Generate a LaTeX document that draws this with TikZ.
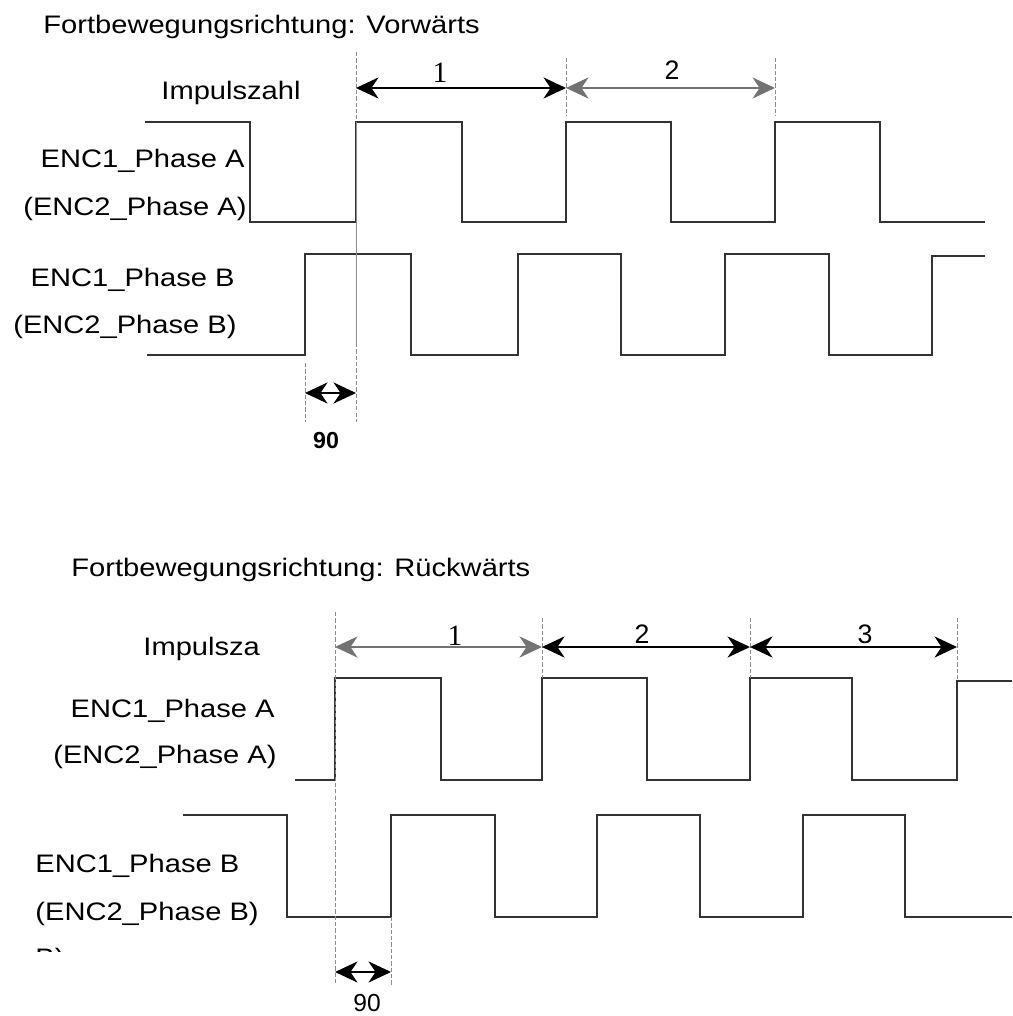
\documentclass[tikz,border=0pt]{standalone}
\usepackage{fontspec}
\setmainfont{Liberation Sans}
\newfontfamily\widefont[FakeStretch=1.15]{Liberation Sans}
\newfontfamily\numserif{Liberation Serif}
\usetikzlibrary{arrows.meta}

\begin{document}
\begin{tikzpicture}[
            x = 0.025cm, y = -0.025cm, % one unit per pixel, y going down
            > = {Stealth[length=16pt, width=15pt, inset=5pt]}, % arrow head style
            semithick % line style
        ]

        \tikzstyle{signal}=[draw = black!80, line width = 1.2pt]
        \tikzstyle{guide}=[draw = black!45, line width = 0.5pt, dash pattern = on 3pt off 1.5pt]
        \tikzstyle{thinline}=[draw = black!45, line width = 0.5pt]
        \tikzstyle{dimline}=[<->, draw = black, line width = 1.2pt]
        \tikzstyle{dimgray}=[<->, draw = black!55, line width = 1.2pt]
        \tikzstyle{sigtext}=[inner sep = 0pt, font = \widefont\fontsize{18}{20}\selectfont]
        \tikzstyle{numtext}=[inner sep = 0pt, font = \fontsize{19}{21}\selectfont]
        \tikzstyle{romtext}=[inner sep = 0pt, font = \numserif\fontsize{21}{23}\selectfont]

        \useasboundingbox (0,0) rectangle (1012,1016);

        % forward
        \node[sigtext, anchor = base west] (titlefwd) at (43,34) {Fortbewegungsrichtung: Vorwärts};
        \node[sigtext, anchor = base west] (countfwd) at (161,100) {Impulszahl};
        \node[sigtext, anchor = base east] (afwd) at (245,168) {ENC1\_Phase A};
        \node[sigtext, anchor = base east] (afwdb) at (247,216) {(ENC2\_Phase A)};
        \node[sigtext, anchor = base east] (bfwd) at (235,287) {ENC1\_Phase B};
        \node[sigtext, anchor = base east] (bfwdb) at (237,333) {(ENC2\_Phase B)};

        \draw[signal] (145,122) -- (250,122) -- (250,222) -- (356,222) -- (356,122) -- (462,122)
            -- (462,222) -- (566,222) -- (566,122) -- (671,122) -- (671,222) -- (775,222)
            -- (775,122) -- (880,122) -- (880,222) -- (985,222);
        \draw[signal] (147,355) -- (305,355) -- (305,254) -- (411,254) -- (411,355) -- (518,355)
            -- (518,254) -- (621,254) -- (621,355) -- (725,355) -- (725,254) -- (829,254)
            -- (829,355) -- (932,355) -- (932,256) -- (985,256);

        \coordinate (f0top) at (356,52);
        \coordinate (f0) at (356,88);
        \coordinate (f1) at (566,88);
        \coordinate (f2) at (775,88);
        \coordinate (f0mid) at (356,122);
        \coordinate (f0low) at (356,343);
        \coordinate (f0end) at (356,422);
        \coordinate (fb) at (305,393);
        \coordinate (fbm) at (356,393);

        \draw[guide] (f0top) -- (f0mid);
        \draw[thinline] (f0mid) -- (f0low);
        \draw[guide] (f0low) -- (f0end);
        \draw[guide] (305,363) -- (305,422);
        \draw[guide] (566,58) -- (566,115);
        \draw[guide] (775,58) -- (775,115);

        \draw[dimline] (f0) -- (f1);
        \draw[dimgray] (f1) -- (f2);
        \draw[dimline] (fb) -- (fbm);

        \node[romtext, anchor = base] (fn1) at (440,83) {1};
        \node[numtext, anchor = base] (fn2) at (672,80) {2};
        \node[inner sep = 0pt, anchor = base, font = \bfseries\fontsize{16.5}{18}\selectfont] (fdeg) at (326,448) {90};

        % backward
        \node[sigtext, anchor = base west] (titlebwd) at (71,576) {Fortbewegungsrichtung: Rückwärts};
        \node[sigtext, anchor = base west] (countbwd) at (143,655) {Impulsza};
        \node[sigtext, anchor = base east] (abwd) at (275,717) {ENC1\_Phase A};
        \node[sigtext, anchor = base east] (abwdb) at (277,763) {(ENC2\_Phase A)};
        \node[sigtext, anchor = base west] (bbwd) at (35,872) {ENC1\_Phase B};
        \node[sigtext, anchor = base west] (bbwdb) at (35,920) {(ENC2\_Phase B)};
        \begin{scope}
            \clip (30,944) rectangle (75,951);
            \node[sigtext, anchor = base west] (bcut) at (35,966) {B)};
        \end{scope}

        \draw[signal] (295,780) -- (335,780) -- (335,678) -- (441,678) -- (441,780) -- (542,780)
            -- (542,678) -- (647,678) -- (647,780) -- (750,780) -- (750,678) -- (852,678)
            -- (852,780) -- (957,780) -- (957,681) -- (1012,681);
        \draw[signal] (183,815) -- (287,815) -- (287,917) -- (391,917) -- (391,815) -- (495,815)
            -- (495,917) -- (597,917) -- (597,815) -- (700,815) -- (700,917) -- (803,917)
            -- (803,815) -- (905,815) -- (905,917) -- (1012,917);

        \coordinate (r0) at (335,647);
        \coordinate (r1) at (542,647);
        \coordinate (r2) at (750,647);
        \coordinate (r3) at (957,647);
        \coordinate (rb) at (335,972);
        \coordinate (rbm) at (391,972);

        \draw[guide] (335,612) -- (335,985);
        \draw[guide] (542,618) -- (542,678);
        \draw[guide] (750,618) -- (750,678);
        \draw[guide] (957,618) -- (957,681);
        \draw[guide] (391,917) -- (391,985);

        \draw[dimgray] (r0) -- (r1);
        \draw[dimline] (r1) -- (r2);
        \draw[dimline] (r2) -- (r3);
        \draw[dimline] (rb) -- (rbm);

        \node[romtext, anchor = base] (rn1) at (455,645) {1};
        \node[numtext, anchor = base] (rn2) at (642,643) {2};
        \node[numtext, anchor = base] (rn3) at (865,643) {3};
        \node[inner sep = 0pt, anchor = base, font = \fontsize{17.5}{19}\selectfont] (rdeg) at (367,1011) {90};

    \end{tikzpicture}
\end{document}
